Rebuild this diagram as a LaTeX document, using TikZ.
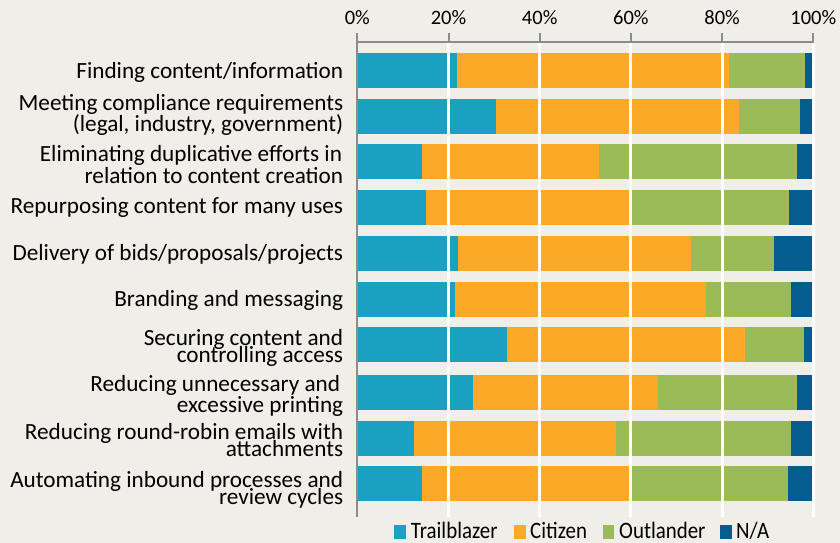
\documentclass[tikz,border=0pt]{standalone}
\usepackage{fontspec}
\setmainfont{Carlito}
\newfontfamily\legfont[FakeStretch=0.89]{Carlito}
\definecolor{bgc}{HTML}{EFEEE8}
\definecolor{cteal}{HTML}{1AA0C0}
\definecolor{corange}{HTML}{FBA926}
\definecolor{cgreen}{HTML}{9BBB59}
\definecolor{cnavy}{HTML}{045C8F}
\definecolor{caxis}{HTML}{8C8C8C}
\begin{document}
\begin{tikzpicture}[x=1pt,y=-1pt,
  lbl/.style={anchor=base east, inner sep=0pt, font=\fontsize{23.2}{24}\selectfont},
  tick/.style={anchor=base, inner sep=0pt, font=\fontsize{20.5}{22}\selectfont},
  leg/.style={anchor=base west, inner sep=0pt, font=\legfont\fontsize{23.5}{24}\selectfont},
  legsq/.style={anchor=south west, minimum width=11.5pt, minimum height=14pt, inner sep=0pt, draw=none},
  grid/.style={white, line width=3pt},
  axisline/.style={caxis, line width=2pt}]
\fill[bgc] (0,0) rectangle (840,543);
\useasboundingbox (0,0) rectangle (840,543);
% bars
\foreach \tp/\t/\c/\o in {52.7/21.9/81.5/98.2, 99/30.4/83.7/97.1, 144/14.2/53.1/96.4, 190/15.0/60.0/94.7, 235.7/22.1/73.2/91.4, 282/21.4/76.4/95.2, 327/32.8/85.0/97.9, 375/25.4/65.9/96.4, 421/12.4/56.7/95.1, 466/14.2/60.0/94.4} {
  \fill[cteal] (357.3,\tp) rectangle ({357.3+4.56*\t},{\tp+35});
  \fill[corange] ({357.3+4.56*\t},\tp) rectangle ({357.3+4.56*\c},{\tp+35});
  \fill[cgreen] ({357.3+4.56*\c},\tp) rectangle ({357.3+4.56*\o},{\tp+35});
  \fill[cnavy] ({357.3+4.56*\o},\tp) rectangle (813.3,{\tp+35});
}
% gridlines
\foreach \p in {20,40,60,80,100} {
  \draw[grid] ({357.3+4.56*\p},42) -- ({357.3+4.56*\p},517);
  \draw[axisline] ({357.3+4.56*\p},33) -- ({357.3+4.56*\p},42);
}
\draw[axisline] (357.3,33) -- (357.3,517);
\draw[axisline] (356.3,41.7) -- (814.3,41.7);
% top labels
\node[tick] (p0) at (357.3,25) {0\%};
\node[tick] (p20) at (448.5,25) {20\%};
\node[tick] (p40) at (539.7,25) {40\%};
\node[tick] (p60) at (630.9,25) {60\%};
\node[tick] (p80) at (722.1,25) {80\%};
\node[tick] (p100) at (813.3,25) {100\%};
% category labels
\node[lbl] (l1) at (343.3,78.3) {Finding content/information};
\node[lbl] (l2a) at (343.3,110) {Meeting compliance requirements};
\node[lbl] (l2b) at (343.3,131.7) {(legal, industry, government)};
\node[lbl] (l3a) at (342.3,161.7) {Eliminating duplicative efforts in};
\node[lbl] (l3b) at (343.3,183.3) {relation to content creation};
\node[lbl] (l4) at (343.3,213.3) {Repurposing content for many uses};
\node[lbl] (l5) at (343.3,260) {Delivery of bids/proposals/projects};
\node[lbl] (l6) at (343.3,306.7) {Branding and messaging};
\node[lbl] (l7a) at (343.3,345) {Securing content and};
\node[lbl] (l7b) at (343.3,362.5) {controlling access};
\node[lbl] (l8a) at (340.3,391.7) {Reducing unnecessary and};
\node[lbl] (l8b) at (343.3,412.7) {excessive printing};
\node[lbl] (l9a) at (343.3,439) {Reducing round-robin emails with};
\node[lbl] (l9b) at (343.3,456) {attachments};
\node[lbl] (l10a) at (343.3,487.3) {Automating inbound processes and};
\node[lbl] (l10b) at (343.3,504.3) {review cycles};
% legend
\node[legsq, fill=cteal] (s1) at (394,538.7) {};
\node[leg] (g1) at (410.7,538.7) {Trailblazer};
\node[legsq, fill=corange] (s2) at (514,538.7) {};
\node[leg] (g2) at (530,538.7) {Citizen};
\node[legsq, fill=cgreen] (s3) at (602.3,538.7) {};
\node[leg] (g3) at (619,538.7) {Outlander};
\node[legsq, fill=cnavy] (s4) at (720,538.7) {};
\node[leg] (g4) at (736,538.7) {N/A};
\end{tikzpicture}
\end{document}
